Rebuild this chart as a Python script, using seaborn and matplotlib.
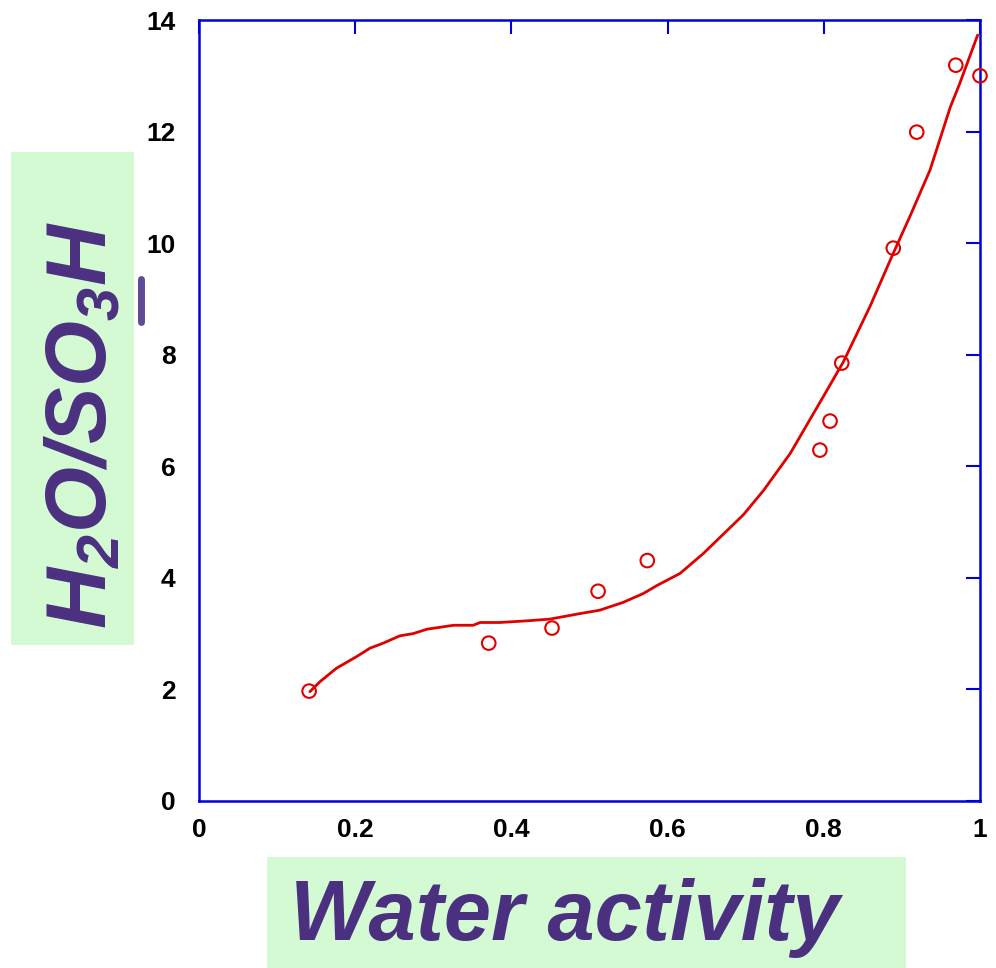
import matplotlib
matplotlib.use("Agg")
import matplotlib.pyplot as plt
from matplotlib.patches import Rectangle
from matplotlib.lines import Line2D
import numpy as np
import pandas as pd
import seaborn as sns

# measured points
aw_pts = [0.141, 0.371, 0.452, 0.511, 0.574, 0.795, 0.808, 0.823, 0.889, 0.919, 0.969, 1.0]
ratio_pts = [1.97, 2.83, 3.10, 3.76, 4.31, 6.29, 6.81, 7.85, 9.91, 11.99, 13.19, 13.00]

# fitted curve
aw_fit = [0.142, 0.155, 0.176, 0.202, 0.219, 0.236, 0.257, 0.274, 0.292, 0.326, 0.351,
          0.360, 0.385, 0.420, 0.449, 0.488, 0.513, 0.543, 0.569, 0.586, 0.616, 0.646,
          0.697, 0.723, 0.757, 0.799, 0.825, 0.859, 0.889, 0.910, 0.936, 0.962, 0.974,
          0.997]
ratio_fit = [1.96, 2.14, 2.38, 2.59, 2.74, 2.83, 2.96, 3.00, 3.08, 3.15, 3.15,
             3.20, 3.20, 3.23, 3.26, 3.36, 3.42, 3.56, 3.72, 3.86, 4.08, 4.44,
             5.13, 5.57, 6.23, 7.24, 7.87, 8.86, 9.82, 10.47, 11.31, 12.44, 12.86,
             13.73]

xticks = [0, 0.2, 0.4, 0.6, 0.8, 1]
xticklabels = ["0", "0.2", "0.4", "0.6", "0.8", "1"]
yticks = [0, 2, 4, 6, 8, 10, 12, 14]

sns.set_style("white")
plt.rcParams['font.family'] = ['Liberation Sans', 'DejaVu Sans']
plt.rcParams['mathtext.fontset'] = 'custom'
plt.rcParams['mathtext.bfit'] = 'Liberation Sans:italic:bold'
plt.rcParams['mathtext.it'] = 'Liberation Sans:italic:bold'
plt.rcParams['mathtext.rm'] = 'Liberation Sans:italic:bold'

W, H = 996, 968
fig = plt.figure(figsize=(W / 100, H / 100), dpi=100)
ax = fig.add_axes([199 / W, 1 - 801 / H, 781 / W, 781 / H])

pts = pd.DataFrame({"aw": aw_pts, "ratio": ratio_pts})
fit = pd.DataFrame({"aw": aw_fit, "ratio": ratio_fit})

red = "#E00000"
blue = "#0000DD"
purple = "#4B3080"
green = "#D4FAD4"

sns.lineplot(data=fit, x="aw", y="ratio", sort=False, color=red, lw=2.0, ax=ax)
sns.scatterplot(data=pts, x="aw", y="ratio", marker="o", s=95, facecolor="none",
                edgecolor=red, linewidth=1.5, clip_on=False, zorder=5, ax=ax)

ax.set_xlim(0, 1)
ax.set_ylim(0, 14)
ax.set_xticks(xticks)
ax.set_xticklabels(xticklabels)
ax.set_yticks(yticks)
ax.set_xlabel("")
ax.set_ylabel("")

for s in ax.spines.values():
    s.set_color(blue)
    s.set_linewidth(1.8)
    s.set_visible(True)

ax.tick_params(direction="in", length=10, width=1.5, color=blue,
               top=True, right=True, labelsize=19)
ax.tick_params(axis="x", pad=12)
ax.tick_params(axis="y", pad=17)
for lab in ax.get_xticklabels() + ax.get_yticklabels():
    lab.set_fontweight("bold")
    lab.set_color("black")

# label boxes
fig.add_artist(Rectangle((267 / W, 0), (906 - 267) / W, (968 - 857) / H,
                         transform=fig.transFigure, facecolor=green, edgecolor="none", zorder=0))
fig.add_artist(Rectangle((11 / W, 1 - 645 / H), (134 - 11) / W, (645 - 152) / H,
                         transform=fig.transFigure, facecolor=green, edgecolor="none", zorder=0))

fig.text(565 / W, 1 - 918 / H, "Water activity", fontsize=61, fontweight="bold",
         fontstyle="italic", color=purple, ha="center", va="center")
fig.text(84 / W, 1 - 425 / H, r"$H_2O/SO_3H$", fontsize=61,
         color=purple, rotation=90, ha="center", va="center")

fig.add_artist(Line2D([141 / W, 141 / W], [1 - 322 / H, 1 - 279 / H],
                      transform=fig.transFigure, color="#5E4A96", lw=5))

fig.savefig("out.png", dpi=100)
